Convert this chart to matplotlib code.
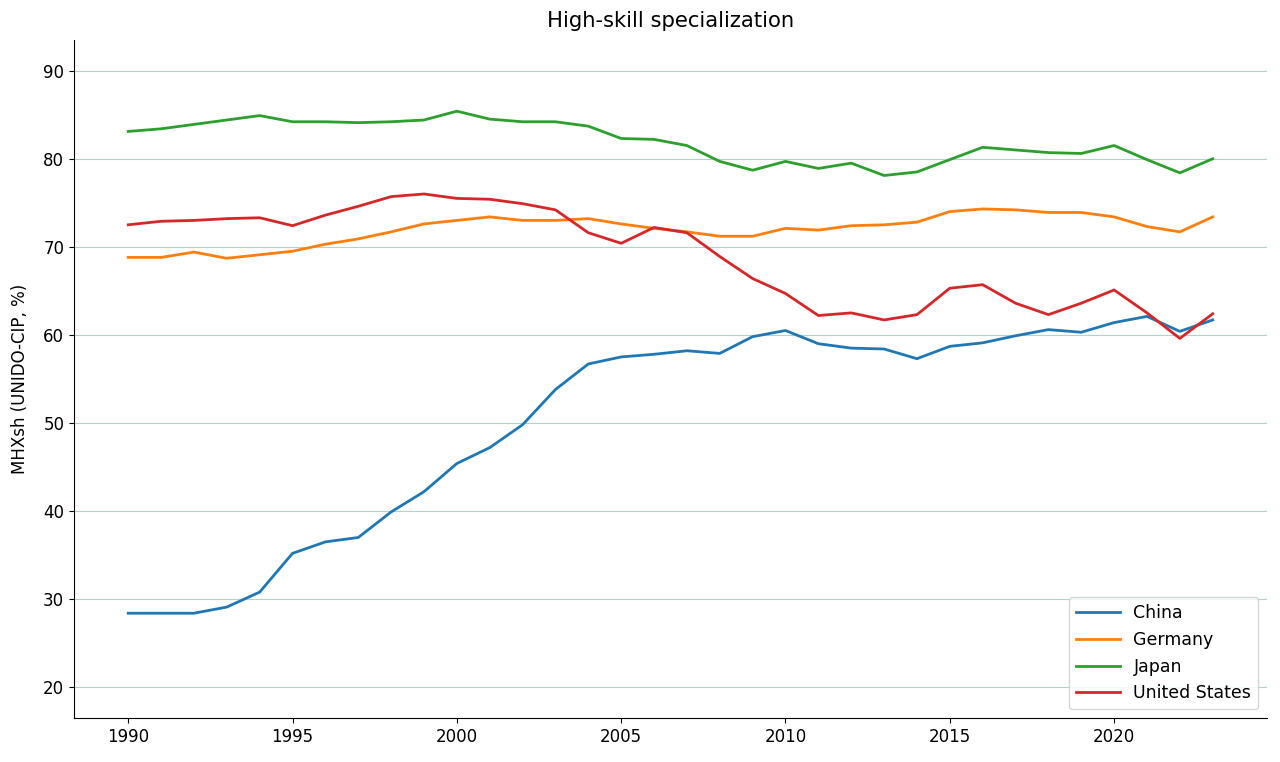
import matplotlib
matplotlib.use("Agg")
import matplotlib.pyplot as plt

years = list(range(1990, 2024))

china = [28.4, 28.4, 28.4, 29.1, 30.8, 35.2, 36.5, 37.0, 39.9, 42.2,
         45.4, 47.2, 49.8, 53.8, 56.7, 57.5, 57.8, 58.2, 57.9, 59.8,
         60.5, 59.0, 58.5, 58.4, 57.3, 58.7, 59.1, 59.9, 60.6, 60.3,
         61.4, 62.1, 60.4, 61.7]
germany = [68.8, 68.8, 69.4, 68.7, 69.1, 69.5, 70.3, 70.9, 71.7, 72.6,
           73.0, 73.4, 73.0, 73.0, 73.2, 72.6, 72.1, 71.7, 71.2, 71.2,
           72.1, 71.9, 72.4, 72.5, 72.8, 74.0, 74.3, 74.2, 73.9, 73.9,
           73.4, 72.3, 71.7, 73.4]
japan = [83.1, 83.4, 83.9, 84.4, 84.9, 84.2, 84.2, 84.1, 84.2, 84.4,
         85.4, 84.5, 84.2, 84.2, 83.7, 82.3, 82.2, 81.5, 79.7, 78.7,
         79.7, 78.9, 79.5, 78.1, 78.5, 79.9, 81.3, 81.0, 80.7, 80.6,
         81.5, 79.9, 78.4, 80.0]
united_states = [72.5, 72.9, 73.0, 73.2, 73.3, 72.4, 73.6, 74.6, 75.7, 76.0,
                 75.5, 75.4, 74.9, 74.2, 71.6, 70.4, 72.2, 71.6, 68.9, 66.4,
                 64.7, 62.2, 62.5, 61.7, 62.3, 65.3, 65.7, 63.6, 62.3, 63.6,
                 65.1, 62.5, 59.6, 62.4]

series = [("China", china), ("Germany", germany), ("Japan", japan),
          ("United States", united_states)]
colors = ["#1f77b4", "#ff7f0e", "#2ca02c", "#d62728"]

fig = plt.figure(figsize=(12.8, 7.62), dpi=100)
ax = fig.add_axes([0.0578, 0.0577, 0.932, 0.89])

for (name, vals), c in zip(series, colors):
    ax.plot(years, vals, color=c, linewidth=2, label=name)

ax.set_ylim(16.5, 93.5)
ax.set_xlim(1988.35, 2024.65)
ax.set_yticks([20, 30, 40, 50, 60, 70, 80, 90])
ax.set_xticks([1990, 1995, 2000, 2005, 2010, 2015, 2020])
ax.tick_params(labelsize=12)
ax.grid(axis="y", color="#b0d3cc", linewidth=0.8)
ax.set_axisbelow(True)
ax.spines["top"].set_visible(False)
ax.spines["right"].set_visible(False)
ax.set_ylabel("MHXsh (UNIDO-CIP, %)", fontsize=12, labelpad=10)
ax.set_title("High-skill specialization", fontsize=15.2, pad=9)
ax.legend(loc="lower right", fontsize=12.5, handlelength=2.5)

fig.savefig("out.png", dpi=100)
